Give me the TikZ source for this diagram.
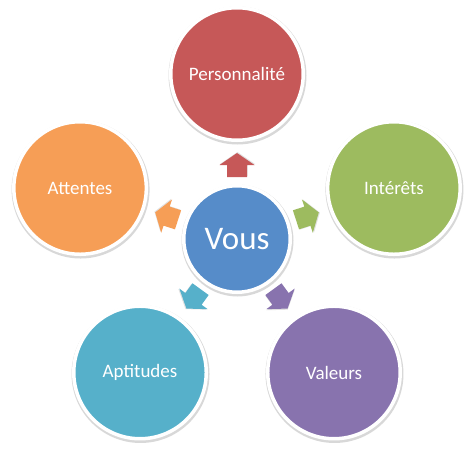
\documentclass[tikz,border=0pt]{standalone}
\usepackage{fontspec}
\setmainfont{Carlito}
\usetikzlibrary{calc}

\definecolor{vouscol}{RGB}{86,140,201}
\definecolor{perscol}{RGB}{198,88,88}
\definecolor{intecol}{RGB}{157,187,95}
\definecolor{valecol}{RGB}{136,115,174}
\definecolor{apticol}{RGB}{86,176,202}
\definecolor{attecol}{RGB}{246,158,86}

\begin{document}
\begin{tikzpicture}[x=1pt,y=1pt,
        bubble/.style={circle,draw=white,line width=3.5pt,text=white,
            font=\fontsize{19}{22}\selectfont,minimum size=132.5pt,inner sep=0pt}]
        \useasboundingbox (0,0) rectangle (474,459);
        \coordinate (c) at (237,220);

        \fill[black!30,opacity=.5] ($(c)+(0.5,-1.5)$) circle (56);
        \node[bubble,minimum size=106.5pt,fill=vouscol,
            font=\fontsize{33}{36}\selectfont] (vous) at (c) {Vous};

        \foreach \a/\name/\col/\txt in {
            90/pers/perscol/Personnalité,
            18/inte/intecol/Intérêts,
            -54/vale/valecol/Valeurs,
            -126/apti/apticol/Aptitudes,
            162/atte/attecol/Attentes} {
                \fill[black!30,opacity=.5] ($(c)+(\a:165)+(0.5,-1.5)$) circle (69);
                \node[bubble,fill=\col] (\name) at ($(c)+(\a:165)$) {\txt};
                \coordinate (\name-arrow) at ($(vous)!74pt!(\name)$);
                \begin{scope}[shift={(\name-arrow)},rotate=\a]
                    \fill[black!30,opacity=.4] (-11,-10.5) -- (1,-10.5) -- (1,-18) -- (13,-0.5)
                        -- (1,17) -- (1,9.5) -- (-11,9.5) -- cycle;
                    \fill[\col] (-12,-10) -- (0,-10) -- (0,-17.5) -- (12,0)
                        -- (0,17.5) -- (0,10) -- (-12,10) -- cycle;
                \end{scope}
        }
    \end{tikzpicture}
\end{document}
